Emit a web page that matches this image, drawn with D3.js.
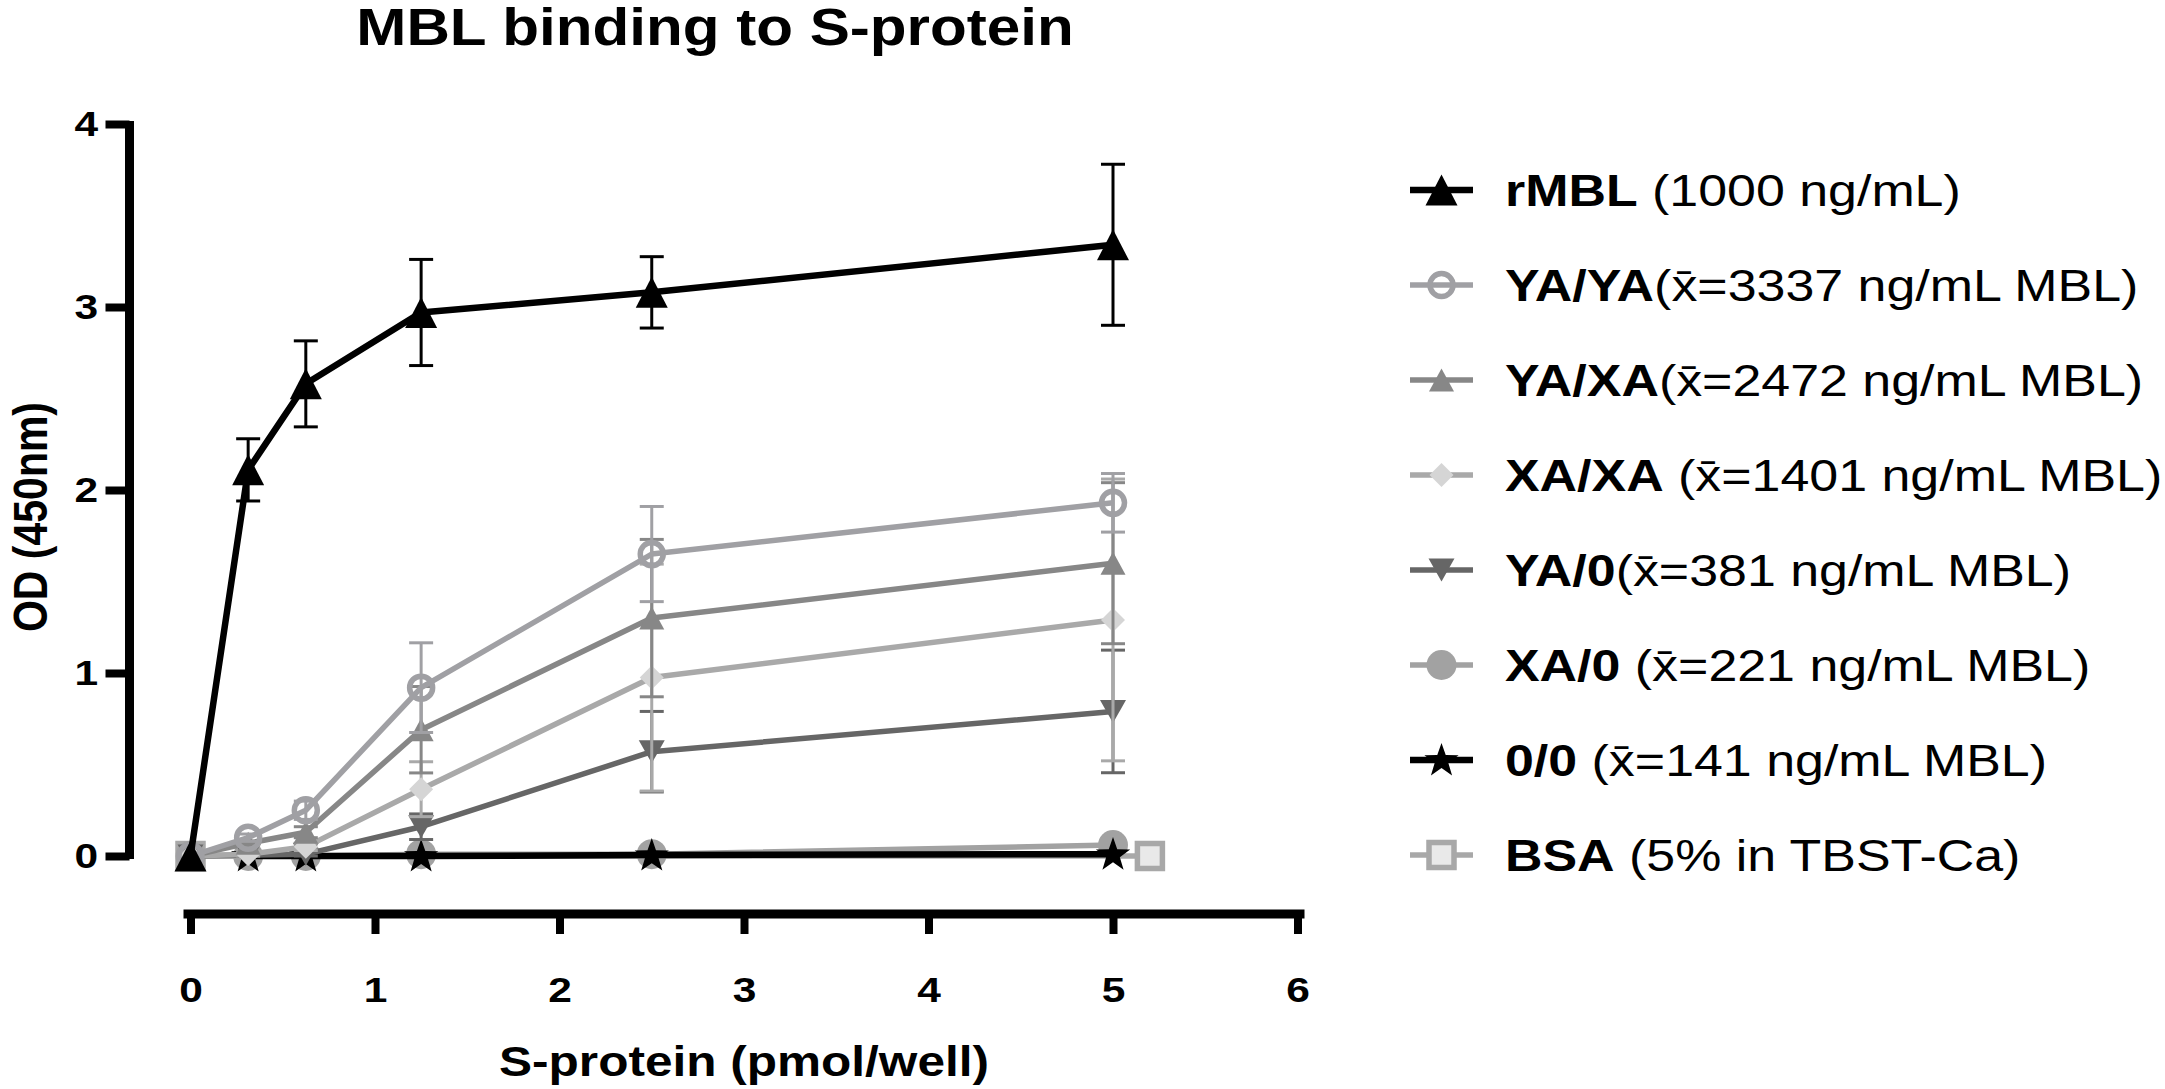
<!DOCTYPE html>
<html><head><meta charset="utf-8">
<script src="https://cdn.jsdelivr.net/npm/d3@7"></script>
<style>body{margin:0;background:#fff}text{font-family:"Liberation Sans",Arial,Helvetica,sans-serif}</style>
</head><body>
<svg id="c" width="2165" height="1089"></svg>
<script>
// ---------- data ----------
const xValues = [0, 0.3125, 0.625, 1.25, 2.5, 5];
const rMBL      = [0, 2.11, 2.58, 2.97, 3.08, 3.34];
const rMBLErr   = [0, 0.17, 0.235, 0.29, 0.195, 0.44];
const yaYa      = [0, 0.10, 0.25, 0.92, 1.65, 1.93];
const yaYaErr   = [0, 0.02, 0.05, 0.245, 0.26, 0.16];
const yaXa      = [0, 0.07, 0.13, 0.69, 1.30, 1.60];
const yaXaErr   = [0, 0.01, 0.03, 0.236, 0.43, 0.44];
const xaXa      = [0, 0.01, 0.05, 0.365, 0.975, 1.29];
const xaXaErr   = [0, 0.01, 0.02, 0.15, 0.62, 0.77];
const ya0       = [0, 0.005, 0.01, 0.16, 0.57, 0.79];
const ya0Err    = [0, 0.005, 0.01, 0.07, 0.22, 0.335];
const xa0       = [0, 0, 0, 0.01, 0.01, 0.06];
const xa0Err    = [0, 0, 0, 0.01, 0.01, 0.01];
const zeroXValues = [0.3125, 0.625, 1.25, 2.5, 5];
const zeroZero  = [0, 0, 0, 0.005, 0.01];
const bsaXValues = [0, 5.2];
const bsa       = [0, 0];
const xTicks = [0, 1, 2, 3, 4, 5, 6];
const yTicks = [0, 1, 2, 3, 4];
const legendNames = ["rMBL", "YA/YA", "YA/XA", "XA/XA", "YA/0", "XA/0", "0/0", "BSA"];
const legendRest = [" (1000 ng/mL)", "(x\u0304=3337 ng/mL MBL)", "(x\u0304=2472 ng/mL MBL)", " (x\u0304=1401 ng/mL MBL)",
  "(x\u0304=381 ng/mL MBL)", " (x\u0304=221 ng/mL MBL)", " (x\u0304=141 ng/mL MBL)", " (5% in TBST-Ca)"];
const titleText = "MBL binding to S-protein";
const xTitle = "S-protein (pmol/well)";
const yTitle = "OD (450nm)";

// ---------- styles ----------
const SX = 1.18; // horizontal text stretch
const styles = {
  "rMBL":  {color:"#000000", lw:6.5, shape:"triUp",   w:32, h:31, fill:"#000000", stroke:"none", sw:0},
  "YA/YA": {color:"#a0a0a4", lw:5.5, shape:"circle",  r:11.5, fill:"none", stroke:"#a0a0a4", sw:5.5},
  "YA/XA": {color:"#878787", lw:5.5, shape:"triUp",   w:25, h:23, fill:"#878787", stroke:"none", sw:0},
  "XA/XA": {color:"#a9a9a9", lw:5.5, shape:"diamond", w:24, h:24, fill:"#d5d5d5", stroke:"none", sw:0},
  "YA/0":  {color:"#666666", lw:5.5, shape:"triDown", w:26, h:23, fill:"#666666", stroke:"none", sw:0},
  "XA/0":  {color:"#a2a2a2", lw:5.5, shape:"circle",  r:15, fill:"#a2a2a2", stroke:"none", sw:0},
  "0/0":   {color:"#000000", lw:6.5, shape:"star",    R:18, fill:"#000000", stroke:"none", sw:0},
  "BSA":   {color:"#a8a8a8", lw:5.5, shape:"square",  s:25, fill:"#e9e9e9", stroke:"#a8a8a8", sw:5.5}
};

const series = [
  {name:"BSA",   xs:bsaXValues,  ys:bsa,      err:null},
  {name:"XA/0",  xs:xValues,     ys:xa0,      err:xa0Err},
  {name:"0/0",   xs:zeroXValues, ys:zeroZero, err:null},
  {name:"YA/0",  xs:xValues,     ys:ya0,      err:ya0Err},
  {name:"XA/XA", xs:xValues,     ys:xaXa,     err:xaXaErr},
  {name:"YA/XA", xs:xValues,     ys:yaXa,     err:yaXaErr},
  {name:"YA/YA", xs:xValues,     ys:yaYa,     err:yaYaErr},
  {name:"rMBL",  xs:xValues,     ys:rMBL,     err:rMBLErr}
];

function markerPath(st){
  switch(st.shape){
    case "triUp": return `M0,${-st.h/2}L${st.w/2},${st.h/2}L${-st.w/2},${st.h/2}Z`;
    case "triDown": return `M0,${st.h/2}L${st.w/2},${-st.h/2}L${-st.w/2},${-st.h/2}Z`;
    case "diamond": return `M0,${-st.h/2}L${st.w/2},0L0,${st.h/2}L${-st.w/2},0Z`;
    case "square": return `M${-st.s/2},${-st.s/2}h${st.s}v${st.s}h${-st.s}Z`;
    case "circle": return `M${st.r},0A${st.r},${st.r} 0 1,1 ${-st.r},0A${st.r},${st.r} 0 1,1 ${st.r},0Z`;
    case "star": {
      let p = [];
      for(let i=0;i<10;i++){
        const rr = i%2===0 ? st.R : st.R*0.4;
        const a = -Math.PI/2 + i*Math.PI/5;
        p.push([rr*Math.cos(a), rr*Math.sin(a)+st.R*0.05]);
      }
      return "M"+p.map(q=>q.join(",")).join("L")+"Z";
    }
  }
}

// ---------- chart ----------
const svg = d3.select("#c");
const x = d3.scaleLinear().domain([0, 6]).range([190.5, 1297.5]);
const y = d3.scaleLinear().domain([0, 4]).range([856, 124]);

function stretchText(sel){
  sel.each(function(){
    const t = d3.select(this);
    const tx = +t.attr("x") || 0, ty = +t.attr("y") || 0;
    t.attr("x", 0).attr("y", 0).attr("transform", `translate(${tx},${ty}) scale(${SX},1)`);
  });
}

// Y axis
const yAxis = svg.append("g").attr("transform", "translate(129.5,0)")
  .call(d3.axisLeft(y).tickValues(yTicks).tickFormat(d3.format("d")).tickSize(24).tickSizeOuter(0).tickPadding(7.5));
yAxis.select(".domain").attr("d", `M0,${y(0)+3}V${y(4)-3}`).attr("stroke", "#000").attr("stroke-width", 9);
yAxis.selectAll(".tick line").attr("stroke", "#000").attr("stroke-width", 8);
yAxis.selectAll(".tick text").attr("font-size", 36).attr("font-weight", "bold").attr("fill", "#000")
  .attr("font-family", "Liberation Sans, Arial, sans-serif").call(stretchText);

// X axis
const xAxis = svg.append("g").attr("transform", "translate(0,914)")
  .call(d3.axisBottom(x).tickValues(xTicks).tickFormat(d3.format("d")).tickSize(20).tickSizeOuter(0).tickPadding(42));
xAxis.select(".domain").attr("d", `M${x(0)-7},0H${x(6)+7}`).attr("stroke", "#000").attr("stroke-width", 9);
xAxis.selectAll(".tick line").attr("stroke", "#000").attr("stroke-width", 8);
xAxis.selectAll(".tick text").attr("font-size", 36).attr("font-weight", "bold").attr("fill", "#000")
  .attr("font-family", "Liberation Sans, Arial, sans-serif").call(stretchText);

// Titles
svg.append("text").attr("transform", `translate(${(x(0)+x(6))/2 - 29},45) scale(${SX},1)`)
  .attr("text-anchor", "middle").attr("font-size", 51).attr("font-weight", "bold").text(titleText);
svg.append("text").attr("transform", `translate(${(x(0)+x(6))/2},1076) scale(${SX},1)`)
  .attr("text-anchor", "middle").attr("font-size", 42).attr("font-weight", "bold").text(xTitle);
svg.append("text").attr("transform", `translate(47,517) rotate(-90) scale(1,${SX})`)
  .attr("text-anchor", "middle").attr("font-size", 41).attr("font-weight", "bold").text(yTitle);

// Series
const line = d3.line().x(d => x(d[0])).y(d => y(d[1]));
series.forEach(s => {
  const st = styles[s.name];
  const g = svg.append("g");
  const pts = s.xs.map((xv, i) => [xv, s.ys[i], s.err ? s.err[i] : 0]);
  const eb = g.selectAll(".eb").data(pts.filter(p => p[2] > 0)).join("g")
    .attr("transform", p => `translate(${x(p[0])},0)`);
  eb.append("line").attr("x1", 0).attr("x2", 0).attr("y1", p => y(p[1]-p[2])).attr("y2", p => y(p[1]+p[2]))
    .attr("stroke", st.color).attr("stroke-width", 3);
  eb.append("line").attr("x1", -12).attr("x2", 12).attr("y1", p => y(p[1]+p[2])).attr("y2", p => y(p[1]+p[2]))
    .attr("stroke", st.color).attr("stroke-width", 3);
  eb.append("line").attr("x1", -12).attr("x2", 12).attr("y1", p => y(p[1]-p[2])).attr("y2", p => y(p[1]-p[2]))
    .attr("stroke", st.color).attr("stroke-width", 3);
  g.append("path").datum(pts).attr("d", line).attr("fill", "none")
    .attr("stroke", st.color).attr("stroke-width", st.lw).attr("stroke-linejoin", "round");
  g.selectAll(".m").data(pts).join("path")
    .attr("transform", p => `translate(${x(p[0])},${y(p[1])})`)
    .attr("d", markerPath(st)).attr("fill", st.fill).attr("stroke", st.stroke).attr("stroke-width", st.sw);
});

// Legend
const legend = svg.append("g");
const rowY = d3.scalePoint().domain(legendNames).range([190, 855]);
legendNames.forEach((nm, i) => {
  const st = styles[nm];
  const ry = rowY(nm);
  legend.append("line").attr("x1", 1410).attr("x2", 1473).attr("y1", ry).attr("y2", ry)
    .attr("stroke", st.color).attr("stroke-width", st.lw);
  legend.append("path").attr("transform", `translate(1441.5,${ry})`).attr("d", markerPath(st))
    .attr("fill", st.fill).attr("stroke", st.stroke).attr("stroke-width", st.sw);
  const t = legend.append("text").attr("transform", `translate(1505,${ry+15.8}) scale(${SX},1)`)
    .attr("font-size", 44).attr("fill", "#000");
  t.append("tspan").attr("font-weight", "bold").text(nm);
  t.append("tspan").attr("font-weight", "normal").text(legendRest[i]);
});
</script>
</body></html>
